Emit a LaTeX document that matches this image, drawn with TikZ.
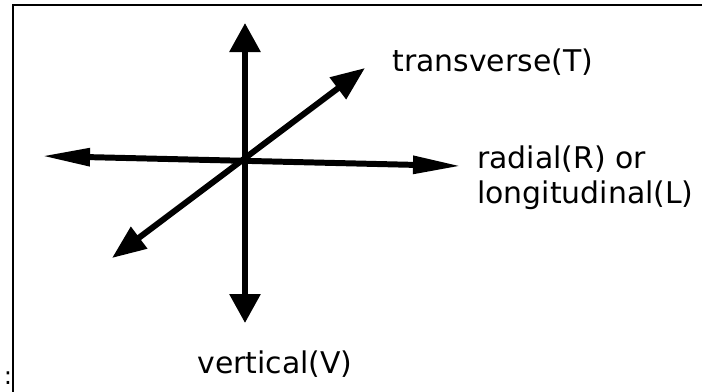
\documentclass[tikz,border=0pt]{standalone}
\usepackage{fontspec}
\setmainfont{DejaVu Sans}
\usetikzlibrary{arrows.meta}

\begin{document}
\begin{tikzpicture}[
    axe/.style={line width=3.4pt},
    pointeV/.style={{Triangle[length=5.8mm,width=6mm]}-{Triangle[length=5.8mm,width=6mm]}},
    pointeH/.style={{Triangle[length=9.6mm,width=3.4mm]}-{Triangle[length=9.6mm,width=3.4mm]}},
    pointeD/.style={{Triangle[length=6.8mm,width=5.2mm]}-{Triangle[length=6.8mm,width=5.2mm]}},
    etiquette/.style={inner sep=0pt, font=\fontsize{17}{19.9}\selectfont}
]

    % Cadre de l'image (coupé à droite et en bas)
    \useasboundingbox (-4.9,-4.58) rectangle (9.14,3.24);
    \clip (-4.9,-4.58) rectangle (9.14,3.24);
    \draw[line width=1.4pt] (-4.64,-5) rectangle (9.5,3.14);

    % Extrémités des trois axes
    \coordinate (haut) at (0,2.78);
    \coordinate (bas) at (0,-3.22);
    \coordinate (gauche) at (-4.06,0.12);
    \coordinate (droite) at (4.32,-0.08);
    \coordinate (avant) at (-2.66,-1.92);
    \coordinate (arriere) at (2.4,1.88);

    % Axes à double flèche
    \draw[axe, pointeH] (gauche) -- (droite);
    \draw[axe, pointeD] (avant) -- (arriere);
    \draw[axe, pointeV] (bas) -- (haut);

    % Étiquettes des directions
    \node[etiquette, anchor=base west] (transverse) at (2.94,1.82) {transverse(T)};
    \node[etiquette, anchor=base west, align=left] (radial) at (4.64,-0.82) {radial(R) or\\longitudinal(L)};
    \node[etiquette, anchor=base west] (vertical) at (-0.96,-4.22) {vertical(V)};

    % Reste de texte en bas à gauche
    \node[inner sep=0pt, anchor=base, font=\fontsize{14}{16}\selectfont] (deuxpoints) at (-4.74,-4.44) {:};

\end{tikzpicture}
\end{document}
